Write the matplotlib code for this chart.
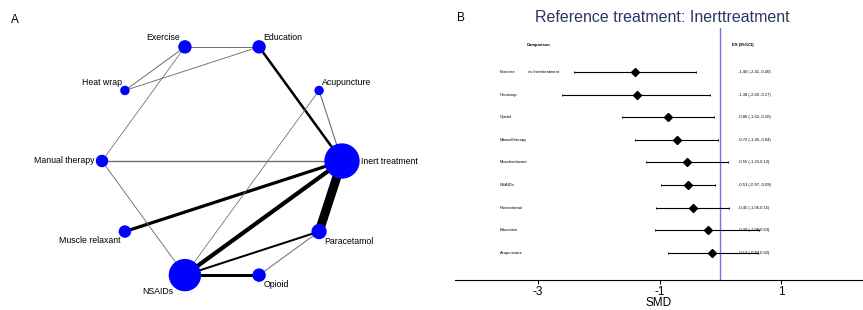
import numpy as np
import matplotlib.pyplot as plt
from matplotlib.patches import Circle

plt.rcParams['font.family'] = ['Liberation Sans', 'DejaVu Sans']

# ---- panel A: network of treatments ----
nodes = ['Inert treatment', 'Acupuncture', 'Education', 'Exercise', 'Heat wrap',
         'Manual therapy', 'Muscle relaxant', 'NSAIDs', 'Opioid', 'Paracetamol']
node_weight = [72, 4, 9, 9, 4, 7.6, 7.6, 60, 9, 12]

edges = [('Paracetamol', 'Inert treatment', 9),
         ('NSAIDs', 'Inert treatment', 4.2),
         ('Muscle relaxant', 'Inert treatment', 3.2),
         ('NSAIDs', 'Opioid', 3),
         ('Education', 'Inert treatment', 2.5),
         ('NSAIDs', 'Paracetamol', 2),
         ('Manual therapy', 'Inert treatment', 1.4),
         ('Acupuncture', 'Inert treatment', 1.1),
         ('Opioid', 'Paracetamol', 1),
         ('Exercise', 'Education', 1),
         ('Exercise', 'Heat wrap', 1),
         ('Education', 'Heat wrap', 0.9),
         ('Exercise', 'Manual therapy', 0.8),
         ('Manual therapy', 'NSAIDs', 0.9),
         ('Acupuncture', 'NSAIDs', 0.8)]

# ---- panel B: forest plot vs inert treatment ----
comparisons = ['Exercise', 'Heatwrap', 'Opioid', 'Manualtherapy', 'Musclerelaxant',
               'NSAIDs', 'Paracetamol', 'Education', 'Acupuncture']
smd = [-1.40, -1.38, -0.86, -0.72, -0.55, -0.53, -0.45, -0.20, -0.13]
ci_low = [-2.41, -2.60, -1.62, -1.40, -1.23, -0.97, -1.06, -1.08, -0.87]
ci_high = [-0.40, -0.17, -0.10, -0.04, 0.12, -0.09, 0.15, 0.63, 0.62]
xticks = [-3, -1, 1]

W, H = 863, 310
fig = plt.figure(figsize=(W / 100, H / 100), dpi=100)

# panel A drawn in pixel-like units
axA = fig.add_axes([0, 0, 430 / W, 1])
axA.set_xlim(0, 430)
axA.set_ylim(H, 0)
axA.axis('off')

cx, cy, R = 222, 161, 120
ang = np.deg2rad(np.arange(len(nodes)) * 36.0)
px = cx + R * np.cos(ang)
py = cy - R * np.sin(ang)
rad = 2.0 * np.sqrt(node_weight)
idx = {n: i for i, n in enumerate(nodes)}

for a, b, w in edges:
    i, j = idx[a], idx[b]
    col = 'black' if w >= 2 else '#6e6e6e'
    axA.plot([px[i], px[j]], [py[i], py[j]], color=col, lw=w * 0.72,
             solid_capstyle='butt', zorder=1)

for i, n in enumerate(nodes):
    axA.add_patch(Circle((px[i], py[i]), rad[i], color='#0000ff', zorder=2))
    c, s = np.cos(ang[i]), np.sin(ang[i])
    ha = 'left' if c > 0 else 'right'
    if s > 0.1:
        va, dy = 'bottom', -rad[i] * 0.75
    elif s < -0.1:
        va, dy = 'top', rad[i] * 0.75
    else:
        va, dy = 'center', 0
    dx = (rad[i] + 2) if abs(s) < 0.1 else rad[i] * 0.75
    axA.text(px[i] + np.sign(c) * dx, py[i] + dy, n, ha=ha, va=va,
             fontsize=6.3, color='black', zorder=3)

fig.text(15 / W, 1 - 20 / H, 'A', fontsize=8.5, ha='center', va='center')
fig.text(461 / W, 1 - 18 / H, 'B', fontsize=8.5, ha='center', va='center')

# panel B
axB = fig.add_axes([455 / W, 30 / H, (W - 455) / W, 252 / H])
axB.set_xlim(-4.37, 2.35)
axB.set_ylim(9.2, -1.95)
for sp in ['left', 'right', 'top']:
    axB.spines[sp].set_visible(False)
axB.spines['bottom'].set_linewidth(0.8)
axB.set_yticks([])
axB.set_xticks(xticks)
axB.set_xticklabels([str(t) for t in xticks], fontsize=8.5)
axB.tick_params(axis='x', length=3, width=0.7, pad=1.5)
axB.set_xlabel('SMD', fontsize=8.5, labelpad=-1)

axB.axvline(0, color='#7272ea', lw=1.0, zorder=1)

rows = np.arange(len(comparisons))
err = [np.array(smd) - np.array(ci_low), np.array(ci_high) - np.array(smd)]
axB.errorbar(smd, rows, xerr=err, fmt='D', color='black', ms=4.5,
             elinewidth=0.8, capsize=1, capthick=0.6, zorder=3)

axB.text(-3.19, -1.19, 'Comparison', fontsize=3, fontweight='bold', ha='left', va='center')
axB.text(0.2, -1.19, 'ES (95%CI)', fontsize=3, fontweight='bold', ha='left', va='center')
for r, name, e, lo, hi in zip(rows, comparisons, smd, ci_low, ci_high):
    axB.text(-3.63, r, name, fontsize=3, ha='left', va='center')
    axB.text(0.29, r, f'{e:.2f} ({lo:.2f},{hi:.2f})', fontsize=3, ha='left', va='center')
axB.text(-3.17, 0, 'vs Inerttreatment', fontsize=3, ha='left', va='center')

fig.text(662 / W, 1 - 17 / H, 'Reference treatment: Inerttreatment', fontsize=11.5,
         color='#2b3763', ha='center', va='center')

fig.savefig('out.png', dpi=100)
